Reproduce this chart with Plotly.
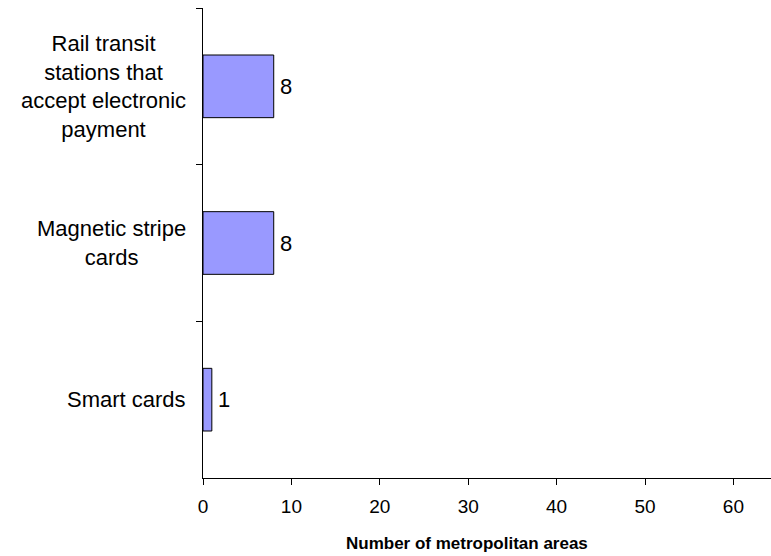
import plotly.graph_objects as go

categories = [
    "Rail transit<br>stations that<br>accept electronic<br>payment",
    "Magnetic stripe<br>cards",
    "Smart cards",
]
values = [8, 8, 1]
x_ticks = [0, 10, 20, 30, 40, 50, 60]
x_title = "Number of metropolitan areas"

FONT = "Liberation Sans, Arial, sans-serif"

fig = go.Figure()
fig.add_trace(go.Bar(
    y=categories,
    x=values,
    orientation="h",
    width=0.4,
    marker=dict(color="#9999FF", line=dict(color="#000000", width=1)),
    hoverinfo="x+y",
))

# category labels (block right-aligned, lines centred)
for c in categories:
    fig.add_annotation(
        x=0, xref="paper", y=c, yref="y",
        text=c, showarrow=False,
        xanchor="right", yanchor="middle", align="center",
        xshift=-15,
        font=dict(family=FONT, size=22, color="#000000"),
    )

# data labels
for c, v in zip(categories, values):
    fig.add_annotation(
        x=v, xref="x", y=c, yref="y",
        text=str(v), showarrow=False,
        xanchor="left", yanchor="middle",
        xshift=4,
        font=dict(family=FONT, size=22, color="#000000"),
    )

# x-axis title
fig.add_annotation(
    x=0.465, xref="paper", y=0, yref="paper",
    text="<b>" + x_title + "</b>", showarrow=False,
    xanchor="center", yanchor="middle", yshift=-65,
    font=dict(family=FONT, size=17, color="#000000"),
)

fig.update_layout(
    width=771, height=556,
    margin=dict(l=203, r=0, t=8, b=78, pad=0),
    plot_bgcolor="white", paper_bgcolor="white",
    showlegend=False,
    font=dict(family=FONT, color="#000000"),
    xaxis=dict(
        range=[0, 64.25],
        tickvals=x_ticks,
        ticks="outside", ticklen=6, tickcolor="#000000", tickwidth=1,
        showline=True, linecolor="#000000", linewidth=1,
        showgrid=False, zeroline=False,
        tickfont=dict(family=FONT, size=19, color="#000000"),
        ticklabelstandoff=5,
    ),
    yaxis=dict(
        type="category",
        range=[2.5, -0.5],
        tickson="boundaries",
        ticks="outside", ticklen=6, tickcolor="#000000", tickwidth=1,
        showline=True, linecolor="#000000", linewidth=1,
        showgrid=False, zeroline=False,
        showticklabels=False,
    ),
)

fig.write_html(
    "out.html",
    config={"displayModeBar": False},
    post_script="document.body.style.margin='0';document.body.style.overflow='hidden';",
)
